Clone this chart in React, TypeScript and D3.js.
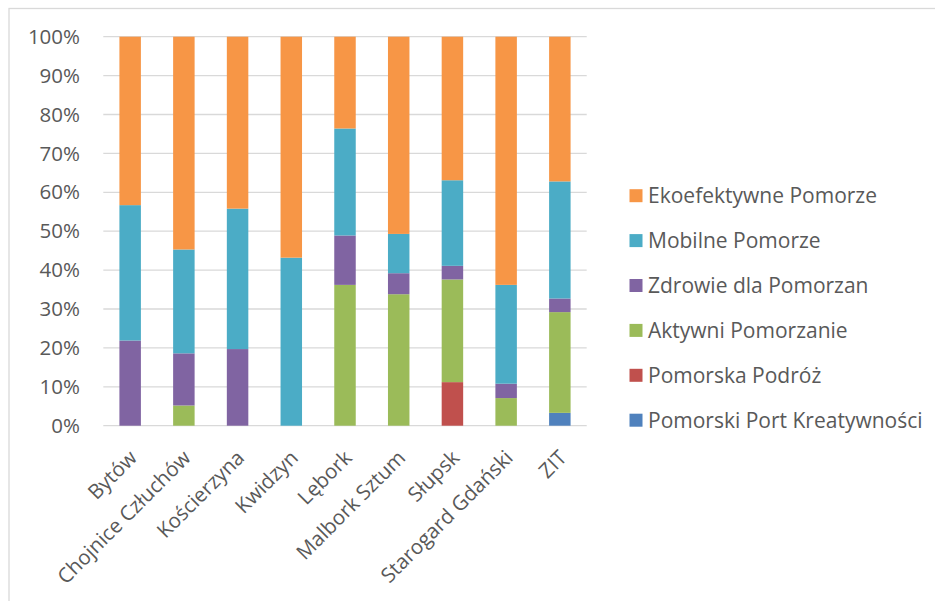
import React, { useEffect, useRef } from "react";
import * as d3 from "d3";

const categories = ["Bytów", "Chojnice Człuchów", "Kościerzyna", "Kwidzyn", "Lębork", "Malbork Sztum", "Słupsk", "Starogard Gdański", "ZIT"];
const seriesNames = ["Pomorski Port Kreatywności", "Pomorska Podróż", "Aktywni Pomorzanie", "Zdrowie dla Pomorzan", "Mobilne Pomorze", "Ekoefektywne Pomorze"];
const seriesColors = ["#4F81BD", "#C0504D", "#9BBB59", "#8064A2", "#4BACC6", "#F79646"];
const portValues = [0, 0, 0, 0, 0, 0, 0, 0, 3.3];
const podrozValues = [0, 0, 0, 0, 0, 0, 11.2, 0, 0];
const aktywniValues = [0, 5.2, 0, 0, 36.2, 33.8, 26.4, 7.1, 25.9];
const zdrowieValues = [21.9, 13.4, 19.7, 0, 12.7, 5.4, 3.5, 3.7, 3.5];
const mobilneValues = [34.8, 26.7, 36.1, 43.2, 27.5, 10.1, 22.0, 25.4, 30.1];
const ekoValues = [43.3, 54.7, 44.2, 56.8, 23.6, 50.7, 36.9, 63.8, 37.2];
const yTicks = [0, 0.1, 0.2, 0.3, 0.4, 0.5, 0.6, 0.7, 0.8, 0.9, 1];

export default function App() {
  const ref = useRef<SVGSVGElement>(null);
  useEffect(() => {
    const svg = d3.select(ref.current);
    svg.selectAll("*").remove();
    const font = "'Open Sans', sans-serif";
    const textColor = "#595959";

    svg.append("rect").attr("x", 9).attr("y", 8.5).attr("width", 940).attr("height", 600)
      .attr("fill", "white").attr("stroke", "#d9d9d9").attr("stroke-width", 1.3);

    const x = d3.scaleBand<string>().domain(categories).range([103.3, 586.7]).paddingInner(0.6).paddingOuter(0.3);
    const y = d3.scaleLinear().domain([0, 1]).range([425.7, 36.7]);

    const g = svg.append("g");
    g.selectAll("line.grid").data(yTicks).join("line")
      .attr("x1", 103.3).attr("x2", 586.7)
      .attr("y1", d => y(d)).attr("y2", d => y(d))
      .attr("stroke", "#d9d9d9").attr("stroke-width", 1.3);

    g.selectAll("text.ytick").data(yTicks).join("text")
      .attr("x", 80).attr("y", d => y(d)).attr("dy", "0.35em")
      .attr("text-anchor", "end").attr("font-family", font).attr("font-size", 20.5).attr("fill", textColor)
      .text(d => d3.format(".0%")(d));

    const allValues = [portValues, podrozValues, aktywniValues, zdrowieValues, mobilneValues, ekoValues];
    const rows = categories.map((c, i) => {
      const r: any = { cat: c };
      seriesNames.forEach((s, k) => { r[s] = allValues[k][i]; });
      return r;
    });
    const stack = d3.stack<any>().keys(seriesNames).offset(d3.stackOffsetExpand);
    const stacked = stack(rows);
    stacked.forEach((layer, k) => {
      g.append("g").selectAll("rect").data(layer).join("rect")
        .attr("x", d => x(d.data.cat)!)
        .attr("width", x.bandwidth())
        .attr("y", d => y(d[1]))
        .attr("height", d => Math.max(0, y(d[0]) - y(d[1])))
        .attr("fill", seriesColors[k]);
    });

    g.selectAll("text.xtick").data(categories).join("text")
      .attr("transform", d => `translate(${x(d)! + x.bandwidth() / 2 + 3},${454}) rotate(-45)`)
      .attr("text-anchor", "end").attr("dy", "0.35em")
      .attr("font-family", font).attr("font-size", 20.5).attr("fill", textColor)
      .text(d => d);

    const legendOrder = [5, 4, 3, 2, 1, 0];
    legendOrder.forEach((k, i) => {
      const cy = 195.7 + i * 44.9;
      svg.append("rect").attr("x", 629.5).attr("y", cy - 6.5).attr("width", 13).attr("height", 13).attr("fill", seriesColors[k]);
      svg.append("text").attr("x", 648).attr("y", cy).attr("dy", "0.35em")
        .attr("font-family", font).attr("font-size", 21).attr("fill", textColor).text(seriesNames[k]);
    });
  }, []);
  return (
    <div style={{ position: "absolute", left: 0, top: 0 }}>
      <svg ref={ref} width={935} height={601} style={{ display: "block" }} />
    </div>
  );
}
